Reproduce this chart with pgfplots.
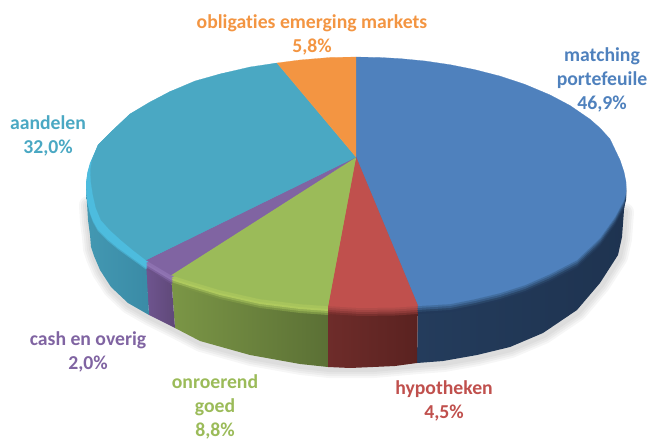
\documentclass[border=0pt]{standalone}
\usepackage{pgfplots}
\usepackage{pgfplotstable}
\usepackage{fontspec}
\setmainfont[Ligatures=NoCommon]{Carlito}
\pgfplotsset{compat=1.18}
\definecolor{cBlue}{HTML}{4F81BD}
\definecolor{cRed}{HTML}{C0504D}
\definecolor{cGreen}{HTML}{9BBB59}
\definecolor{cPurple}{HTML}{8064A2}
\definecolor{cTeal}{HTML}{4AA8C3}
\definecolor{cOrange}{HTML}{F39542}
\definecolor{cTealBand}{HTML}{4DBCDE}
\definecolor{cTealBand2}{HTML}{47A9C8}
\definecolor{wBlueA}{HTML}{243C5C}
\definecolor{wBlueB}{HTML}{1E3350}
\definecolor{wRedA}{HTML}{6E2C2A}
\definecolor{wRedB}{HTML}{5A2220}
\definecolor{wGreenA}{HTML}{7B9646}
\definecolor{wGreenB}{HTML}{5B7035}
\definecolor{wPurpA}{HTML}{6F5590}
\definecolor{wPurpB}{HTML}{5F4878}
\definecolor{wTealA}{HTML}{4398B2}
\definecolor{wTealB}{HTML}{3A8BA6}
\definecolor{lb1}{HTML}{22395A}
\definecolor{lb2}{HTML}{2A4668}
\definecolor{lb3}{HTML}{365A85}
\definecolor{lb4}{HTML}{426EA0}
\definecolor{lr1}{HTML}{7A302E}
\definecolor{lr2}{HTML}{8F3B39}
\definecolor{lr3}{HTML}{A24543}
\definecolor{lr4}{HTML}{B24C49}
\definecolor{lg1}{HTML}{7C9645}
\definecolor{lg2}{HTML}{94AF52}
\definecolor{lg3}{HTML}{AFCA5E}
\definecolor{lg4}{HTML}{A7C45C}
\definecolor{lp1}{HTML}{6B5288}
\definecolor{lp2}{HTML}{7E62A0}
\definecolor{lp3}{HTML}{9075B3}
\definecolor{lp4}{HTML}{8D71B0}
\pgfplotstableread{
x y
356 157
356 57
380 57.5
400 58.6
425 61
450 64.7
475 69.7
500 76.1
525 84.4
550 94.9
570 105.5
590 119.2
600 128
610 139
620 160
624 172
626 182
626 192
624 200
615 217
600 238
577 260
550 274
525 285
500 293
475 299
450 304
418 306
}\blueT
\pgfplotstableread{
x y
356 157
418 306
395 307.5
360 308
328 306
}\redT
\pgfplotstableread{
x y
356 157
328 306
300 304
260 299
220 290
190 281
171 275
}\greenT
\pgfplotstableread{
x y
356 157
171 275
146 260
}\purpleT
\pgfplotstableread{
x y
356 157
146 260
133 250
121 240
110 230
101 220
96 208
93 195
91 182
90.5 170
92 160
98 145
113 130
130 114
150 102
170 91.6
195 81
220 74
250 67
277 63
}\tealT
\pgfplotstableread{
x y
356 157
146 268
132 258
118 248
107 239
98 230
93 221
90 213
87.5 203
86.5 195
86 183
87.5 172
90 163
98 145
113 130
130 114
170 91.6
220 74
277 63
}\tealO
\pgfplotstableread{
x y
356 157
277 63
300 60
330 57.5
356 57
}\orangeT
% side walls
\pgfplotstableread{
x y
626 186
624 200
615 217
600 238
577 260
550 274
500 293
450 304
418 300
417 363
443 361
477 355
510 347
543 333
577 310
600 283
618 255
622 237
624 210
626 192
}\blueW
\pgfplotstableread{
x y
418 300
328 300
328 367
350 368
373 367
395 366
417 363
}\redW
\pgfplotstableread{
x y
171 275
220 290
270 298
328 300
328 367
300 364
250 355
200 341
175 328
}\greenW
\pgfplotstableread{
x y
145 262
171 275
175 328
149 315
}\purpleW
\pgfplotstableread{
x y
86 190
90 213
98 230
118 248
146 262
149 315
128 303
111 287
100 270
94 256
91 247
90 235
88 220
87 203
}\tealW
% lower silhouette for the soft shadow
\pgfplotstableread{
x y
87 203
88 220
90 235
91 247
94 256
100 270
111 287
128 303
149 315
175 328
200 341
250 355
300 364
328 367
373 367
417 363
443 361
477 355
510 347
543 333
577 310
600 283
618 255
622 237
624 210
}\silh
\newcommand\lvg[3]{%
 \addplot[fill=#2,draw=none,yshift=-#1pt,forget plot] table {\greenT};
 \addplot[fill=#3,draw=none,yshift=-#1pt,forget plot] table {\purpleT};
}
\newcommand\lvb[3]{%
 \addplot[fill=#2,draw=none,yshift=-#1pt,forget plot] table {\blueT};
 \addplot[fill=#3,draw=none,yshift=-#1pt,forget plot] table {\redT};
}
\newcommand\shad[1]{%
 \addplot[draw=black,opacity=0.035,line width=#1pt,line join=round,line cap=round,yshift=-2pt,xshift=1pt,forget plot] table {\silh};
}
\begin{document}
\begin{tikzpicture}
\path[use as bounding box] (0,0) rectangle (649pt,441pt);
\begin{axis}[at={(0,0)},anchor=south west,scale only axis,width=649pt,height=441pt,
 xmin=0,xmax=649,ymin=0,ymax=441,y dir=reverse,hide axis,clip=false]
\shad{18}\shad{14}\shad{10}\shad{6}
\addplot[left color=wBlueA,right color=wBlueB,draw=none,forget plot] table {\blueW};
\addplot[left color=wRedA,right color=wRedB,draw=none,forget plot] table {\redW};
\addplot[left color=wGreenA,right color=wGreenB,draw=none,forget plot] table {\greenW};
\addplot[left color=wPurpA,right color=wPurpB,draw=none,forget plot] table {\purpleW};
\addplot[left color=wTealA,right color=wTealB,draw=none,forget plot] table {\tealW};
\addplot[fill=cTealBand2,draw=none,yshift=-1.5pt,forget plot] table {\tealO};
\addplot[fill=cTealBand,draw=none,forget plot] table {\tealO};
\lvg{9}{lg1}{lp1}
\lvg{7}{lg2}{lp2}
\lvg{5}{lg3}{lp3}
\lvg{3}{lg4}{lp4}
\lvb{8}{lb1}{lr1}
\lvb{6}{lb2}{lr2}
\lvb{4}{lb3}{lr3}
\lvb{2}{lb4}{lr4}
\addplot[fill=cBlue,draw=cBlue,line width=.2pt,forget plot] table {\blueT};
\addplot[fill=cRed,draw=cRed,line width=.2pt,forget plot] table {\redT};
\addplot[fill=cGreen,draw=cGreen,line width=.2pt,forget plot] table {\greenT};
\addplot[fill=cPurple,draw=cPurple,line width=.2pt,forget plot] table {\purpleT};
\addplot[fill=cTeal,draw=cTeal,line width=.2pt,forget plot] table {\tealT};
\addplot[fill=cOrange,draw=cOrange,line width=.2pt,forget plot] table {\orangeT};
\tikzset{lab/.style={inner sep=0pt,align=center,font=\bfseries\fontsize{19.7}{24}\selectfont}}
\node[lab,text=cBlue] at (axis cs:602,79.5) {matching\\portefeuile\\46,9\%};
\node[lab,text=cTeal] at (axis cs:48,135.5) {aandelen\\32,0\%};
\node[lab,text=cPurple] at (axis cs:88,351.5) {cash en overig\\2,0\%};
\node[lab,text=cGreen] at (axis cs:215,406.5) {onroerend\\goed\\8,8\%};
\node[lab,text=cRed] at (axis cs:444,400.5) {hypotheken\\4,5\%};
\node[lab,text=cOrange] at (axis cs:312,34.5) {obligaties emerging markets\\5,8\%};
\end{axis}
\end{tikzpicture}
\end{document}
